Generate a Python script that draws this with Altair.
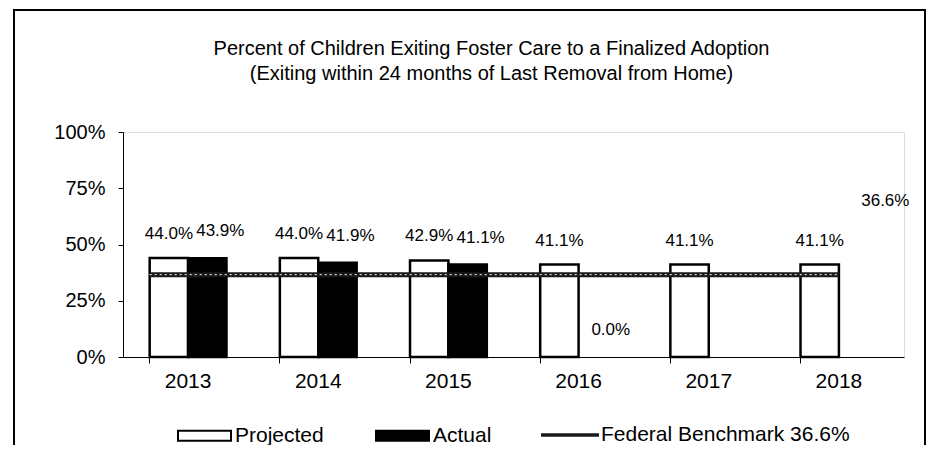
import altair as alt
import pandas as pd

# ---- data ----
years = ["2013", "2014", "2015", "2016", "2017", "2018"]
projected = [44.0, 44.0, 42.9, 41.1, 41.1, 41.1]
actual = [43.9, 41.9, 41.1, 0.0, None, None]
benchmark = 36.6
benchmark_label = "Federal Benchmark 36.6%"
series_names = ["Projected", "Actual"]
y_ticks = [0, 25, 50, 75, 100]
title_lines = [
    "Percent of Children Exiting Foster Care to a Finalized Adoption",
    "(Exiting within 24 months of Last Removal from Home)",
]

rows = []
for yr, p, a in zip(years, projected, actual):
    rows.append({"year": yr, "series": "Projected", "value": p})
    if a is not None:
        rows.append({"year": yr, "series": "Actual", "value": a})
bars_df = pd.DataFrame(rows)
bench_df = pd.DataFrame([{"start": years[0], "end": years[-1],
                          "value": benchmark, "label": benchmark_label}])
frame_df = pd.DataFrame({"k": [0]})

FONT = "Liberation Sans"

xscale = alt.Scale(domain=years, paddingInner=0.41, paddingOuter=0.205)
yscale = alt.Scale(domain=[0, 100], nice=False)
offscale = alt.Scale(domain=series_names, paddingInner=0, paddingOuter=0)

x_axis = alt.Axis(title=None, labelFont=FONT, labelFontSize=21, labelColor="black",
                  labelPadding=7, tickSize=6, tickColor="black", domainColor="black",
                  bandPosition=0, labelAngle=0, grid=False)
y_axis = alt.Axis(title=None, values=y_ticks, labelExpr="datum.value + '%'",
                  labelFont=FONT, labelFontSize=20, labelColor="black", labelPadding=13,
                  tickSize=5, tickColor="black", domainColor="black", grid=False)

X = alt.X("year:N", scale=xscale, axis=x_axis)
Y = alt.Y("value:Q", scale=yscale, axis=y_axis)
XO = alt.XOffset("series:N", scale=offscale)

frame = alt.Chart(frame_df).mark_rect(fill="white", fillOpacity=0, stroke="black",
                                      strokeWidth=2).encode(
    x=alt.value(-109), x2=alt.value(802), y=alt.value(-122), y2=alt.value(340))

bars = alt.Chart(bars_df).mark_bar(stroke="black").encode(
    x=X, xOffset=XO, y=Y,
    strokeWidth=alt.condition("datum.value > 0", alt.value(2.5), alt.value(0)),
    fill=alt.Fill("series:N",
                  scale=alt.Scale(domain=series_names, range=["white", "black"]),
                  legend=alt.Legend(title=None, orient="none", legendX=54, legendY=276,
                                    direction="horizontal",
                                    symbolType="M-1,-0.19H1V0.19H-1Z", symbolSize=2809,
                                    symbolStrokeColor="black", symbolStrokeWidth=2,
                                    labelFont=FONT, labelFontSize=21, labelColor="black",
                                    labelOffset=3, columnPadding=48, padding=0,
                                    labelLimit=400)),
)

bench_x = alt.X("start:N", scale=xscale, axis=x_axis, bandPosition=0)
bench_x2 = alt.X2(field="end", bandPosition=0.5)
bench_y = alt.Y("value:Q", scale=yscale, axis=y_axis)

bench = alt.Chart(bench_df).mark_rule(strokeWidth=5).encode(
    x=bench_x, x2=bench_x2, y=bench_y,
    stroke=alt.Stroke("label:N",
                      scale=alt.Scale(domain=[benchmark_label], range=["#1a1a1a"]),
                      legend=alt.Legend(title=None, orient="none", legendX=416, legendY=272,
                                        symbolType="stroke", symbolSize=3364,
                                        symbolStrokeWidth=3.5,
                                        labelFont=FONT, labelFontSize=21,
                                        labelColor="black", labelOffset=0, padding=0,
                                        labelLimit=400)),
)
bench_dash = alt.Chart(bench_df).mark_rule(stroke="white", strokeWidth=1,
                                           strokeDash=[2, 3]).encode(
    x=bench_x, x2=bench_x2, y=bench_y)

proj_text = alt.Chart(bars_df).transform_filter("datum.series == 'Projected'").transform_calculate(
    txt="format(datum.value, '.1f') + '%'"
).mark_text(font=FONT, fontSize=17, color="black", baseline="middle", dy=-24).encode(
    x=X, xOffset=XO, y=Y, text="txt:N")

act_text = alt.Chart(bars_df).transform_filter("datum.series == 'Actual'").transform_calculate(
    txt="format(datum.value, '.1f') + '%'"
).mark_text(font=FONT, fontSize=17, color="black", baseline="middle", dx=13, dy=-27).encode(
    x=X, xOffset=XO, y=Y, text="txt:N")

bench_text = alt.Chart(bench_df).transform_calculate(
    txt="format(datum.value, '.1f') + '%'"
).mark_text(font=FONT, fontSize=17, color="black", baseline="middle", dx=8, dy=-74).encode(
    x=alt.X("end:N", scale=xscale, axis=x_axis, bandPosition=1), y=bench_y, text="txt:N")

chart = alt.layer(frame, bars, bench, bench_dash, proj_text, act_text, bench_text).properties(
    width=781, height=225,
    autosize=alt.AutoSizeParams(type="none"),
    padding={"left": 115, "top": 124, "right": 27, "bottom": 88},
    title=alt.TitleParams(text=title_lines, font=FONT, fontSize=20, fontWeight="normal",
                          color="black", anchor="middle", dx=-22, offset=-75, lineHeight=25),
).configure_view(strokeWidth=0).configure(background="white")

chart.save("out.html", embed_options={"renderer": "svg", "actions": False})
